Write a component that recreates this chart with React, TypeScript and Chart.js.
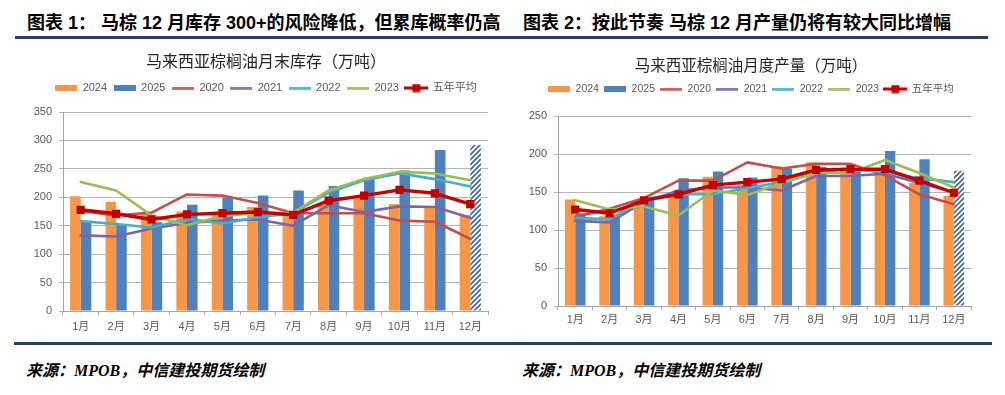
import React, { useEffect, useRef } from 'react';
import { Chart, registerables } from 'chart.js';

Chart.register(...registerables);

// ---------- data ----------
const MONTHS = ['1月', '2月', '3月', '4月', '5月', '6月', '7月', '8月', '9月', '10月', '11月', '12月'];
const SERIES_NAMES = ['2024', '2025', '2020', '2021', '2022', '2023', '五年平均'];
const FORECAST_INDEX = 11; // 2025年12月为预估值（斜线柱）

// 图表1：马来西亚棕榈油月末库存（万吨）
const STOCK_2024 = [202, 192, 172, 175, 175, 183, 172, 186, 200, 188, 183, 169];
const STOCK_2025 = [158, 151, 156, 187, 199, 203, 212, 220, 235, 247, 283, 292];
const STOCK_2020 = [176, 168, 173, 205, 203, 190, 172, 172, 172, 159, 157, 127];
const STOCK_2021 = [133, 131, 145, 155, 159, 161, 150, 186, 174, 184, 183, 164];
const STOCK_2022 = [158, 153, 147, 162, 154, 165, 172, 208, 230, 242, 232, 219];
const STOCK_2023 = [227, 212, 168, 151, 167, 172, 173, 212, 232, 245, 242, 230];
const STOCK_AVG = [178, 171, 161, 170, 172, 174, 169, 194, 203, 213, 207, 188];
const STOCK_Y_MAX = 350;

// 图表2：马来西亚棕榈油月度产量（万吨）
const PROD_2024 = [140, 118, 132, 145, 170, 160, 184, 189, 182, 178, 162, 145];
const PROD_2025 = [122, 117, 139, 168, 177, 169, 181, 183, 180, 204, 193, 178];
const PROD_2020 = [117, 128, 142, 165, 165, 189, 181, 187, 187, 172, 147, 134];
const PROD_2021 = [112, 110, 137, 152, 156, 156, 152, 171, 171, 174, 162, 150];
const PROD_2022 = [116, 114, 141, 147, 147, 155, 163, 177, 180, 176, 168, 163];
const PROD_2023 = [139, 127, 131, 119, 152, 146, 162, 175, 175, 192, 175, 156];
const PROD_AVG = [127, 122, 139, 147, 159, 163, 167, 179, 180, 180, 165, 149];
const PROD_Y_MAX = 250;

const Y_STEP = 50;

// ---------- styles ----------
const ORANGE = '#F79646';
const BLUE = '#4F81BD';
const HATCH_BLUE = '#4A6E99';
const LINE_COLORS = ['#C0504D', '#8064A2', '#4BACC6', '#9BBB59'];
const AVG_COLOR = '#C00000';
const NAVY = '#23406A';
const FONT = "'Liberation Sans', Arial, 'Noto Sans CJK SC', sans-serif";

function makeHatch(ctx: CanvasRenderingContext2D): CanvasPattern | string {
  const c = document.createElement('canvas');
  c.width = 5;
  c.height = 5;
  const x = c.getContext('2d')!;
  x.fillStyle = '#ffffff';
  x.fillRect(0, 0, 5, 5);
  x.strokeStyle = HATCH_BLUE;
  x.lineWidth = 1.9;
  x.beginPath();
  x.moveTo(-1, 6); x.lineTo(6, -1);
  x.moveTo(-1, 1); x.lineTo(1, -1);
  x.moveTo(4, 6); x.lineTo(6, 4);
  x.stroke();
  return ctx.createPattern(c, 'repeat') || BLUE;
}

function legendIcon(kind: 'bar' | 'line' | 'avg', color: string): HTMLCanvasElement {
  const c = document.createElement('canvas');
  const x = c.getContext('2d')!;
  if (kind === 'bar') {
    c.width = 22; c.height = 6;
    x.fillStyle = color; x.fillRect(0, 0, 22, 6);
  } else if (kind === 'line') {
    c.width = 22; c.height = 3;
    x.fillStyle = color; x.fillRect(0, 0.25, 22, 2.5);
  } else {
    c.width = 24; c.height = 9;
    x.fillStyle = color;
    x.fillRect(0, 3, 24, 3);
    x.fillRect(8, 0.5, 8, 8);
  }
  return c;
}

type Layout = {
  title: string;
  titleSize: number;
  titlePadTop: number;
  titlePadBottom: number;
  legendSize: number;
  legendPad: number;
  spacer: number;
  padL: number;
  padR: number;
  padB: number;
  rightGap: number;
  xTickPad: number;
  yMax: number;
};

type Series = {
  s2024: number[]; s2025: number[]; s2020: number[]; s2021: number[];
  s2022: number[]; s2023: number[]; avg: number[];
};

function buildChart(canvas: HTMLCanvasElement, d: Series, L: Layout): Chart {
  const ctx = canvas.getContext('2d')!;
  const hatch = makeHatch(ctx);
  const bar25Colors = d.s2025.map((_, i) => (i === FORECAST_INDEX ? hatch : BLUE));
  const lineSeries = [d.s2020, d.s2021, d.s2022, d.s2023];

  const datasets: any[] = [
    { type: 'bar', label: SERIES_NAMES[0], data: d.s2024, backgroundColor: ORANGE, order: 20,
      categoryPercentage: 0.6, barPercentage: 1 },
    { type: 'bar', label: SERIES_NAMES[1], data: d.s2025, backgroundColor: bar25Colors, order: 20,
      categoryPercentage: 0.6, barPercentage: 1 },
    ...lineSeries.map((s, i) => ({
      type: 'line', label: SERIES_NAMES[2 + i], data: s, borderColor: LINE_COLORS[i],
      backgroundColor: LINE_COLORS[i], borderWidth: 2.6, pointRadius: 0, tension: 0,
      borderJoinStyle: 'round', borderCapStyle: 'round', order: 10 - i,
    })),
    { type: 'line', label: SERIES_NAMES[6], data: d.avg, borderColor: AVG_COLOR, backgroundColor: AVG_COLOR,
      borderWidth: 3.4, pointStyle: 'rect', pointRadius: 5.8, pointBackgroundColor: AVG_COLOR,
      pointBorderColor: AVG_COLOR, pointBorderWidth: 0, tension: 0, borderJoinStyle: 'round', order: 1 },
  ];

  const icons = [
    legendIcon('bar', ORANGE), legendIcon('bar', BLUE),
    ...LINE_COLORS.map((c) => legendIcon('line', c)),
    legendIcon('avg', AVG_COLOR),
  ];

  return new Chart(canvas, {
    type: 'bar',
    data: { labels: MONTHS, datasets },
    options: {
      animation: false,
      responsive: false,
      devicePixelRatio: 1,
      layout: { padding: { left: L.padL, right: L.padR, top: 0, bottom: L.padB } },
      plugins: {
        tooltip: { enabled: false },
        title: {
          display: true, text: L.title, color: '#262626',
          font: { family: "'Noto Sans CJK SC', sans-serif", size: L.titleSize, weight: 'normal', lineHeight: 1.2 },
          padding: { top: L.titlePadTop, bottom: L.titlePadBottom },
        },
        subtitle: {
          display: true, text: '', weight: 100,
          font: { size: 1, lineHeight: 1 }, padding: { top: 0, bottom: L.spacer - 1 },
        },
        legend: {
          display: true, position: 'top',
          labels: {
            usePointStyle: true, pointStyleWidth: 22, padding: L.legendPad, color: '#595959',
            font: { family: FONT, size: L.legendSize },
            generateLabels: () => SERIES_NAMES.map((name, i) => ({
              text: name, pointStyle: icons[i] as any, datasetIndex: i, hidden: false,
              fillStyle: 'transparent', strokeStyle: 'transparent', lineWidth: 0, fontColor: '#595959',
            })),
          },
        },
      },
      scales: {
        x: {
          grid: { display: true, drawOnChartArea: false, drawTicks: true, tickLength: 4, color: '#A6A6A6', offset: true },
          border: { display: true, color: '#A6A6A6', width: 1 },
          ticks: { color: '#595959', font: { family: FONT, size: 11 }, padding: L.xTickPad, maxRotation: 0, autoSkip: false },
        },
        y: {
          min: 0, max: L.yMax,
          grid: { color: '#B4B4B4', tickLength: 4, drawTicks: true },
          border: { display: true, color: '#A6A6A6', width: 1 },
          ticks: { stepSize: Y_STEP, color: '#595959', font: { family: FONT, size: 11 }, padding: 7 },
          afterFit: (scale: any) => { scale.width = 31; },
        },
        yGap: {
          position: 'right', display: true,
          grid: { display: false, drawTicks: false }, border: { display: false },
          ticks: { display: false },
          afterFit: (scale: any) => { scale.width = L.rightGap; },
        },
      },
    } as any,
  });
}

function ChartBox(props: { left: number; top: number; width: number; height: number; data: Series; layout: Layout }) {
  const ref = useRef<HTMLCanvasElement>(null);
  useEffect(() => {
    if (!ref.current) return;
    const chart = buildChart(ref.current, props.data, props.layout);
    return () => chart.destroy();
  }, []);
  return (
    <canvas
      ref={ref}
      width={props.width}
      height={props.height}
      style={{ position: 'absolute', left: props.left, top: props.top, width: props.width, height: props.height }}
    />
  );
}

const headStyle: React.CSSProperties = {
  position: 'absolute', top: 14, fontFamily: "'Liberation Sans', Arial, 'Noto Sans CJK SC', sans-serif",
  fontWeight: 'bold', fontSize: 18, lineHeight: '18px', color: '#000', whiteSpace: 'nowrap',
};
const srcStyle: React.CSSProperties = {
  position: 'absolute', top: 362, fontFamily: "'Liberation Serif', 'Times New Roman', 'Noto Sans CJK SC', serif",
  fontWeight: 'bold', fontStyle: 'italic', fontSize: 16, lineHeight: '18px', color: '#000', whiteSpace: 'nowrap',
};

export default function App() {
  return (
    <div style={{ position: 'absolute', left: 0, top: 0, width: 1005, height: 395, background: '#fff', overflow: 'hidden' }}>
      <div style={{ ...headStyle, left: 27 }}>图表 1： 马棕 12 月库存 300+的风险降低，但累库概率仍高</div>
      <div style={{ ...headStyle, left: 523 }}>图表 2：按此节奏 马棕 12 月产量仍将有较大同比增幅</div>
      <div style={{ position: 'absolute', left: 15, top: 36, width: 973, height: 3, background: NAVY }} />
      <ChartBox
        left={20} top={40} width={490} height={300}
        data={{ s2024: STOCK_2024, s2025: STOCK_2025, s2020: STOCK_2020, s2021: STOCK_2021, s2022: STOCK_2022, s2023: STOCK_2023, avg: STOCK_AVG }}
        layout={{ title: '马来西亚棕榈油月末库存（万吨）', titleSize: 16, titlePadTop: 11.4, titlePadBottom: 5.5,
          legendSize: 11, legendPad: 6.4, spacer: 8.5, padL: 12, padR: 10, rightGap: 12, padB: 1, xTickPad: 5.4, yMax: STOCK_Y_MAX }}
      />
      <ChartBox
        left={512} top={40} width={473} height={300}
        data={{ s2024: PROD_2024, s2025: PROD_2025, s2020: PROD_2020, s2021: PROD_2021, s2022: PROD_2022, s2023: PROD_2023, avg: PROD_AVG }}
        layout={{ title: '马来西亚棕榈油月度产量（万吨）', titleSize: 15.5, titlePadTop: 15.7, titlePadBottom: 4.05,
          legendSize: 10.5, legendPad: 5.4, spacer: 11.75, padL: 15, padR: 10, rightGap: 4, padB: 10, xTickPad: 3.4, yMax: PROD_Y_MAX }}
      />
      <div style={{ position: 'absolute', left: 14, top: 342, width: 978, height: 3, background: NAVY }} />
      <div style={{ ...srcStyle, left: 26 }}>来源：MPOB，中信建投期货绘制</div>
      <div style={{ ...srcStyle, left: 522 }}>来源：MPOB，中信建投期货绘制</div>
    </div>
  );
}
